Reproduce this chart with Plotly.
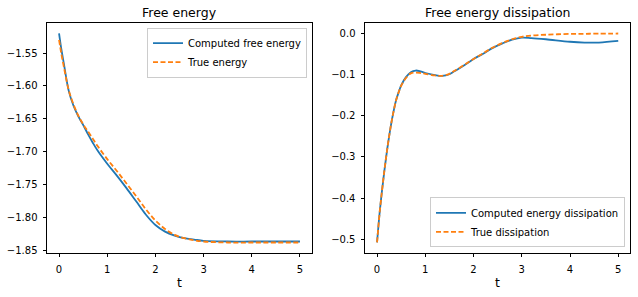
import plotly.graph_objects as go

# ---- data ----
t_energy = [0, 0.05, 0.1, 0.2, 0.3, 0.4, 0.5, 0.6, 0.7, 0.8, 1.0, 1.2, 1.4, 1.6, 1.8,
            2.0, 2.2, 2.4, 2.6, 2.8, 3.0, 3.5, 4.0, 4.5, 5.0]
computed_energy = [-1.520, -1.545, -1.566, -1.607, -1.630, -1.646, -1.659, -1.673, -1.686, -1.698,
                   -1.718, -1.736, -1.755, -1.775, -1.795, -1.811, -1.821, -1.827, -1.831,
                   -1.833, -1.835, -1.836, -1.836, -1.836, -1.836]
true_energy = [-1.530, -1.552, -1.571, -1.606, -1.628, -1.645, -1.658, -1.669, -1.680, -1.691,
               -1.711, -1.729, -1.748, -1.767, -1.787, -1.804, -1.817, -1.826, -1.831,
               -1.834, -1.836, -1.8375, -1.8375, -1.8375, -1.8375]

t_diss = [0, 0.05, 0.1, 0.15, 0.2, 0.25, 0.3, 0.35, 0.4, 0.45, 0.5, 0.6, 0.7, 0.8, 0.9,
          1.0, 1.2, 1.35, 1.5, 1.6, 1.8, 2.0, 2.2, 2.4, 2.6, 2.8, 3.0, 3.2, 3.5, 4.0,
          4.3, 4.6, 5.0]
computed_diss = [-0.508, -0.440, -0.385, -0.335, -0.290, -0.250, -0.215, -0.185, -0.160,
                 -0.142, -0.126, -0.106, -0.094, -0.090, -0.092, -0.096, -0.101, -0.103,
                 -0.099, -0.092, -0.078, -0.062, -0.049, -0.035, -0.024, -0.015, -0.010,
                 -0.011, -0.014, -0.020, -0.022, -0.022, -0.018]
true_diss = [-0.508, -0.440, -0.385, -0.335, -0.290, -0.250, -0.215, -0.185, -0.160,
             -0.142, -0.127, -0.108, -0.097, -0.095, -0.096, -0.098, -0.102, -0.103,
             -0.098, -0.091, -0.077, -0.062, -0.048, -0.034, -0.023, -0.014, -0.008,
             -0.005, -0.003, -0.001, -0.0007, -0.0003, 0.0]

titles = ["Free energy", "Free energy dissipation"]
xlabel = "t"

BLUE = "#1f77b4"
ORANGE = "#ff7f0e"
FONT = "DejaVu Sans"

fig = go.Figure()
fig.add_trace(go.Scatter(x=t_energy, y=computed_energy, mode="lines", name="Computed free energy",
                         line=dict(color=BLUE, width=1.8, shape="spline"), xaxis="x", yaxis="y",
                         legend="legend"))
fig.add_trace(go.Scatter(x=t_energy, y=true_energy, mode="lines", name="True energy",
                         line=dict(color=ORANGE, width=1.8, dash="5px,2.5px", shape="spline"),
                         xaxis="x", yaxis="y", legend="legend"))
fig.add_trace(go.Scatter(x=t_diss, y=computed_diss, mode="lines", name="Computed energy dissipation",
                         line=dict(color=BLUE, width=1.8, shape="spline"), xaxis="x2", yaxis="y2",
                         legend="legend2"))
fig.add_trace(go.Scatter(x=t_diss, y=true_diss, mode="lines", name="True dissipation",
                         line=dict(color=ORANGE, width=1.8, dash="5px,2.5px", shape="spline"),
                         xaxis="x2", yaxis="y2", legend="legend2"))

axis_common = dict(showline=True, linecolor="black", linewidth=1, mirror=True, ticks="outside",
                   ticklen=3.5, tickwidth=0.8, tickcolor="black", showgrid=False, zeroline=False,
                   tickfont=dict(family=FONT, size=10, color="black"))

W, H = 638, 297
ydom = [(297 - 255.3) / H, (297 - 23.3) / H]
fig.update_layout(
    width=W, height=H,
    margin=dict(l=0, r=0, t=0, b=0),
    paper_bgcolor="white", plot_bgcolor="white",
    font=dict(family=FONT, color="black"),
    xaxis=dict(domain=[47 / W, 312 / W], range=[-0.25, 5.25], tickvals=[0, 1, 2, 3, 4, 5],
               anchor="y", ticklabelstandoff=4, **axis_common),
    yaxis=dict(domain=ydom, range=[-1.853, -1.5045], dtick=0.05, tick0=-1.85, tickformat=".2f",
               anchor="x", ticklabelstandoff=3, **axis_common),
    xaxis2=dict(domain=[365 / W, 630.3 / W], range=[-0.25, 5.25], tickvals=[0, 1, 2, 3, 4, 5],
                anchor="y2", ticklabelstandoff=4, **axis_common),
    yaxis2=dict(domain=ydom, range=[-0.533, 0.0254], dtick=0.1, tick0=0, tickformat=".1f",
                anchor="x2", ticklabelstandoff=3, **axis_common),
    legend=dict(x=307 / W, xanchor="right", y=1 - 28 / H, yanchor="top", xref="paper", yref="paper",
                bgcolor="rgba(255,255,255,0.8)", bordercolor="#cccccc", borderwidth=1,
                font=dict(family=FONT, size=10), itemwidth=30, tracegroupgap=0),
    legend2=dict(x=625 / W, xanchor="right", y=1 - 250 / H, yanchor="bottom", xref="paper", yref="paper",
                 bgcolor="rgba(255,255,255,0.8)", bordercolor="#cccccc", borderwidth=1,
                 font=dict(family=FONT, size=10), itemwidth=30, tracegroupgap=0),
    showlegend=True,
)

ann = []
for title, cx in zip(titles, [(47 + 312) / 2 / W, (365 + 630.3) / 2 / W]):
    ann.append(dict(text=title, x=cx, y=1 - 13 / H, xref="paper", yref="paper", showarrow=False,
                    xanchor="center", yanchor="middle", font=dict(family=FONT, size=12.5)))
    ann.append(dict(text=xlabel, x=cx, y=1 - 285 / H, xref="paper", yref="paper", showarrow=False,
                    xanchor="center", yanchor="middle", font=dict(family=FONT, size=12.5)))
fig.update_layout(annotations=ann)

fig.write_html("out.html", config={"displayModeBar": False},
               post_script="document.body.style.margin='0';document.body.style.padding='0';")
